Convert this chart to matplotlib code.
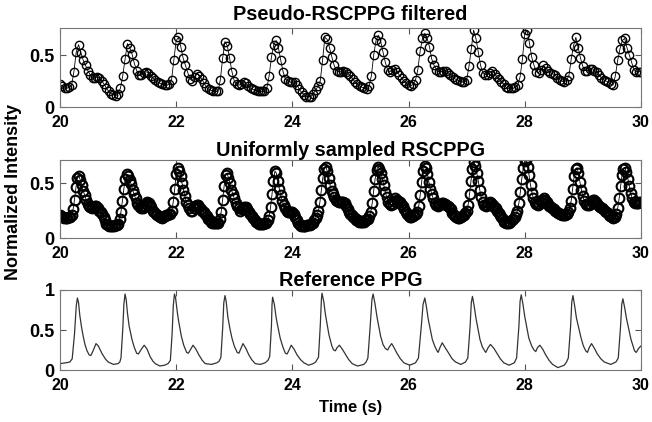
import numpy as np
import matplotlib
matplotlib.use("Agg")
import matplotlib.pyplot as plt

plt.rcParams['font.family'] = ['Liberation Sans', 'DejaVu Sans']

# pseudo-RSCPPG filtered, 25 samples per second from 20 s to 30 s
pseudo_vals = [
    0.22, 0.20, 0.18, 0.18, 0.19, 0.21, 0.34, 0.53, 0.60, 0.52, 0.45, 0.40, 0.35, 0.31, 0.28, 0.28, 0.29, 0.28, 0.25, 0.22, 0.18, 0.15, 0.13, 0.12, 0.11,
    0.13, 0.18, 0.30, 0.46, 0.61, 0.57, 0.51, 0.42, 0.35, 0.31, 0.31, 0.33, 0.34, 0.33, 0.30, 0.28, 0.26, 0.24, 0.23, 0.22, 0.21, 0.21, 0.22, 0.26, 0.45,
    0.64, 0.67, 0.58, 0.47, 0.40, 0.33, 0.27, 0.25, 0.29, 0.32, 0.30, 0.27, 0.23, 0.19, 0.17, 0.16, 0.15, 0.15, 0.15, 0.26, 0.47, 0.63, 0.59, 0.47, 0.34,
    0.25, 0.22, 0.21, 0.22, 0.24, 0.23, 0.20, 0.18, 0.17, 0.16, 0.15, 0.15, 0.15, 0.15, 0.18, 0.30, 0.48, 0.60, 0.64, 0.57, 0.45, 0.34, 0.27, 0.25, 0.24,
    0.24, 0.24, 0.21, 0.17, 0.14, 0.12, 0.10, 0.10, 0.10, 0.13, 0.16, 0.20, 0.25, 0.45, 0.67, 0.65, 0.57, 0.48, 0.40, 0.35, 0.34, 0.34, 0.35, 0.34, 0.32,
    0.30, 0.27, 0.24, 0.22, 0.20, 0.19, 0.18, 0.17, 0.20, 0.30, 0.50, 0.64, 0.69, 0.63, 0.53, 0.43, 0.36, 0.34, 0.36, 0.37, 0.34, 0.31, 0.28, 0.25, 0.23,
    0.21, 0.20, 0.22, 0.26, 0.36, 0.54, 0.66, 0.71, 0.66, 0.58, 0.46, 0.40, 0.36, 0.34, 0.34, 0.35, 0.35, 0.33, 0.31, 0.29, 0.27, 0.26, 0.25, 0.24, 0.24,
    0.26, 0.39, 0.56, 0.74, 0.66, 0.53, 0.40, 0.33, 0.31, 0.31, 0.33, 0.35, 0.32, 0.29, 0.27, 0.24, 0.22, 0.19, 0.18, 0.18, 0.18, 0.19, 0.21, 0.29, 0.46,
    0.70, 0.74, 0.62, 0.48, 0.40, 0.34, 0.33, 0.36, 0.40, 0.38, 0.35, 0.33, 0.32, 0.31, 0.28, 0.26, 0.25, 0.24, 0.26, 0.30, 0.46, 0.59, 0.67, 0.57, 0.47,
    0.39, 0.35, 0.35, 0.37, 0.37, 0.35, 0.34, 0.31, 0.28, 0.26, 0.25, 0.24, 0.22, 0.21, 0.30, 0.45, 0.56, 0.64, 0.66, 0.57, 0.50, 0.43, 0.36, 0.34, 0.34,
    0.34,
]

# uniformly sampled RSCPPG, 40 samples per second
uniform_vals = [
    0.21, 0.20, 0.19, 0.18, 0.18, 0.18, 0.19, 0.19,
    0.21, 0.26, 0.35, 0.46, 0.55, 0.56, 0.53, 0.48,
    0.43, 0.39, 0.35, 0.31, 0.29, 0.28, 0.27, 0.28,
    0.29, 0.29, 0.27, 0.25, 0.24, 0.22, 0.19, 0.16,
    0.13, 0.12, 0.11, 0.11, 0.11, 0.11, 0.12, 0.12,
    0.13, 0.17, 0.24, 0.34, 0.45, 0.54, 0.58, 0.56,
    0.53, 0.49, 0.44, 0.40, 0.36, 0.32, 0.30, 0.28,
    0.27, 0.27, 0.29, 0.31, 0.33, 0.32, 0.30, 0.28,
    0.25, 0.24, 0.22, 0.21, 0.20, 0.19, 0.18, 0.19,
    0.20, 0.21, 0.21, 0.22, 0.22, 0.25, 0.33, 0.45,
    0.58, 0.64, 0.61, 0.56, 0.50, 0.44, 0.38, 0.33,
    0.30, 0.27, 0.25, 0.25, 0.27, 0.29, 0.30, 0.30,
    0.28, 0.26, 0.25, 0.24, 0.22, 0.20, 0.17, 0.16,
    0.15, 0.14, 0.14, 0.14, 0.14, 0.14, 0.17, 0.24,
    0.35, 0.47, 0.57, 0.59, 0.55, 0.50, 0.44, 0.40,
    0.36, 0.32, 0.29, 0.27, 0.25, 0.26, 0.27, 0.28,
    0.28, 0.26, 0.24, 0.22, 0.20, 0.18, 0.16, 0.15,
    0.14, 0.13, 0.13, 0.13, 0.13, 0.14, 0.14, 0.16,
    0.20, 0.28, 0.40, 0.52, 0.61, 0.59, 0.52, 0.45,
    0.39, 0.34, 0.30, 0.27, 0.25, 0.24, 0.24, 0.24,
    0.24, 0.22, 0.19, 0.16, 0.14, 0.12, 0.11, 0.11,
    0.11, 0.11, 0.12, 0.12, 0.12, 0.13, 0.14, 0.16,
    0.18, 0.21, 0.25, 0.33, 0.44, 0.55, 0.63, 0.65,
    0.61, 0.55, 0.48, 0.43, 0.40, 0.37, 0.35, 0.34,
    0.33, 0.33, 0.33, 0.33, 0.32, 0.29, 0.26, 0.24,
    0.22, 0.21, 0.19, 0.18, 0.16, 0.16, 0.15, 0.15,
    0.15, 0.15, 0.16, 0.16, 0.17, 0.20, 0.24, 0.32,
    0.43, 0.54, 0.62, 0.65, 0.63, 0.59, 0.54, 0.48,
    0.42, 0.37, 0.33, 0.31, 0.30, 0.31, 0.34, 0.36,
    0.35, 0.34, 0.33, 0.31, 0.29, 0.26, 0.24, 0.22,
    0.20, 0.19, 0.19, 0.20, 0.21, 0.22, 0.24, 0.29,
    0.39, 0.51, 0.61, 0.66, 0.64, 0.58, 0.51, 0.45,
    0.40, 0.36, 0.32, 0.30, 0.29, 0.30, 0.31, 0.32,
    0.32, 0.31, 0.30, 0.29, 0.28, 0.26, 0.23, 0.21,
    0.20, 0.19, 0.18, 0.18, 0.19, 0.20, 0.21, 0.23,
    0.25, 0.30, 0.40, 0.52, 0.63, 0.69, 0.66, 0.59,
    0.52, 0.44, 0.37, 0.33, 0.30, 0.29, 0.30, 0.32,
    0.33, 0.32, 0.30, 0.28, 0.27, 0.25, 0.23, 0.21,
    0.19, 0.17, 0.15, 0.14, 0.14, 0.14, 0.15, 0.16,
    0.17, 0.19, 0.22, 0.25, 0.32, 0.42, 0.54, 0.64,
    0.70, 0.71, 0.65, 0.57, 0.48, 0.41, 0.36, 0.33,
    0.31, 0.30, 0.31, 0.33, 0.35, 0.36, 0.35, 0.33,
    0.31, 0.29, 0.28, 0.27, 0.26, 0.25, 0.24, 0.23,
    0.22, 0.22, 0.21, 0.21, 0.21, 0.22, 0.24, 0.27,
    0.34, 0.45, 0.56, 0.63, 0.64, 0.59, 0.51, 0.44,
    0.38, 0.34, 0.31, 0.30, 0.30, 0.31, 0.33, 0.35,
    0.35, 0.33, 0.31, 0.29, 0.28, 0.27, 0.26, 0.25,
    0.24, 0.23, 0.21, 0.20, 0.19, 0.18, 0.19, 0.22,
    0.27, 0.36, 0.47, 0.57, 0.63, 0.64, 0.60, 0.54,
    0.47, 0.41, 0.36, 0.33, 0.32, 0.32, 0.32, 0.33,
    0.33,
]

# reference PPG, read as (time, value) points along the trace
ref_t = [
    20.00, 20.10, 20.17, 20.21, 20.25, 20.28, 20.30, 20.32, 20.34, 20.37, 20.40, 20.43, 20.46, 20.50, 20.53, 20.57, 20.62, 20.66, 20.72, 20.78, 20.83, 20.92, 21.00, 21.03, 21.05,
    21.08, 21.10, 21.12, 21.14, 21.16, 21.19, 21.24, 21.28, 21.32, 21.35, 21.40, 21.45, 21.50, 21.55, 21.60, 21.64, 21.72, 21.80, 21.86, 21.90,
    21.93, 21.95, 21.97, 21.99, 22.02, 22.04, 22.09, 22.13, 22.18, 22.21, 22.25, 22.29, 22.34, 22.39, 22.45, 22.50, 22.61, 22.70, 22.74, 22.77,
    22.80, 22.82, 22.84, 22.86, 22.89, 22.93, 22.96, 23.00, 23.05, 23.08, 23.11, 23.15, 23.20, 23.25, 23.30, 23.36, 23.45, 23.53, 23.58, 23.61,
    23.64, 23.65, 23.66, 23.69, 23.72, 23.74, 23.79, 23.84, 23.88, 23.91, 23.95, 23.98, 24.03, 24.08, 24.14, 24.20, 24.28, 24.36, 24.40, 24.45,
    24.48, 24.50, 24.51, 24.54, 24.57, 24.63, 24.68, 24.71, 24.74, 24.77, 24.81, 24.86, 24.92, 24.97, 25.03, 25.12, 25.23, 25.27, 25.30,
    25.34, 25.37, 25.39, 25.42, 25.46, 25.52, 25.56, 25.60, 25.64, 25.67, 25.71, 25.75, 25.80, 25.86, 25.92, 26.02, 26.12, 26.17,
    26.22, 26.25, 26.28, 26.31, 26.34, 26.41, 26.45, 26.49, 26.51, 26.54, 26.58, 26.63, 26.70, 26.75, 26.81, 26.90, 26.98, 27.02,
    27.06, 27.08, 27.10, 27.13, 27.16, 27.23, 27.27, 27.31, 27.33, 27.37, 27.41, 27.47, 27.53, 27.58, 27.64, 27.73, 27.82, 27.86,
    27.90, 27.92, 27.94, 27.97, 28.00, 28.07, 28.12, 28.16, 28.19, 28.22, 28.26, 28.31, 28.36, 28.42, 28.48, 28.57, 28.68, 28.72, 28.75,
    28.79, 28.81, 28.83, 28.86, 28.89, 28.97, 29.01, 29.05, 29.08, 29.11, 29.15, 29.20, 29.25, 29.31, 29.37, 29.48, 29.57, 29.61,
    29.65, 29.67, 29.69, 29.72, 29.75, 29.83, 29.89, 29.92, 29.96, 30.00,
]
ref_vals = [
    0.08, 0.09, 0.10, 0.14, 0.45, 0.80, 0.90, 0.84, 0.69, 0.54, 0.42, 0.32, 0.25, 0.19, 0.18, 0.24, 0.33, 0.30, 0.21, 0.14, 0.10, 0.07, 0.08, 0.10, 0.15,
    0.50, 0.82, 0.95, 0.88, 0.72, 0.55, 0.38, 0.28, 0.21, 0.20, 0.26, 0.31, 0.26, 0.17, 0.11, 0.08, 0.05, 0.06, 0.08, 0.12,
    0.45, 0.80, 0.95, 0.90, 0.72, 0.62, 0.42, 0.31, 0.22, 0.21, 0.26, 0.31, 0.26, 0.19, 0.12, 0.08, 0.07, 0.09, 0.11, 0.16,
    0.52, 0.84, 0.93, 0.86, 0.66, 0.50, 0.40, 0.30, 0.22, 0.21, 0.26, 0.33, 0.27, 0.19, 0.13, 0.08, 0.07, 0.09, 0.12, 0.17,
    0.55, 0.82, 0.91, 0.82, 0.66, 0.58, 0.40, 0.28, 0.21, 0.20, 0.26, 0.31, 0.26, 0.19, 0.13, 0.09, 0.06, 0.08, 0.10, 0.16,
    0.55, 0.88, 0.96, 0.86, 0.69, 0.44, 0.30, 0.25, 0.24, 0.28, 0.31, 0.26, 0.19, 0.13, 0.08, 0.05, 0.07, 0.10, 0.15,
    0.55, 0.88, 0.95, 0.84, 0.65, 0.42, 0.32, 0.27, 0.25, 0.29, 0.33, 0.28, 0.21, 0.14, 0.09, 0.06, 0.09, 0.15,
    0.55, 0.82, 0.90, 0.78, 0.63, 0.38, 0.30, 0.24, 0.22, 0.28, 0.34, 0.28, 0.20, 0.14, 0.10, 0.07, 0.10, 0.15,
    0.55, 0.84, 0.92, 0.80, 0.65, 0.38, 0.29, 0.24, 0.22, 0.28, 0.32, 0.27, 0.20, 0.14, 0.09, 0.06, 0.09, 0.15,
    0.55, 0.86, 0.94, 0.82, 0.67, 0.40, 0.30, 0.25, 0.23, 0.28, 0.31, 0.26, 0.19, 0.12, 0.07, 0.03, 0.06, 0.10, 0.15,
    0.55, 0.85, 0.93, 0.80, 0.65, 0.40, 0.30, 0.24, 0.22, 0.28, 0.33, 0.27, 0.20, 0.14, 0.10, 0.07, 0.10, 0.15,
    0.55, 0.82, 0.89, 0.78, 0.65, 0.38, 0.24, 0.22, 0.27, 0.30,
]

titles = ['Pseudo-RSCPPG filtered', 'Uniformly sampled RSCPPG', 'Reference PPG']
title_pads = [6, 3, 3]
xticks = [20, 22, 24, 26, 28, 30]

pseudo_t = np.linspace(20, 30, len(pseudo_vals))
uniform_t = np.linspace(20, 30, len(uniform_vals))

fig = plt.figure(figsize=(6.52, 4.22), dpi=100)
# axes boxes in figure fractions, matlab-like stacked subplots
boxes = [[0.092, 0.7464, 0.891, 0.1872],
         [0.092, 0.436, 0.891, 0.1848],
         [0.092, 0.1232, 0.891, 0.1896]]
axs = [fig.add_axes(b) for b in boxes]

axs[0].plot(pseudo_t, pseudo_vals, '-o', color='black', lw=0.6,
            markersize=6.0, markerfacecolor='none', markeredgewidth=1.0)
axs[1].plot(uniform_t, uniform_vals, '-o', color='black', lw=0.6,
            markersize=7.0, markerfacecolor='none', markeredgewidth=1.5)
axs[2].plot(ref_t, ref_vals, '-', color='#333333', lw=0.9)

ylims = [(0, 0.76), (0, 0.71), (0, 1)]
yticks = [[0, 0.5], [0, 0.5], [0, 0.5, 1]]
for i, ax in enumerate(axs):
    ax.set_xlim(20, 30)
    ax.set_ylim(*ylims[i])
    ax.set_xticks(xticks)
    ax.set_xticklabels([str(x) for x in xticks], fontsize=11.5, fontweight='bold')
    ax.set_yticks(yticks[i])
    ax.set_yticklabels(['0', '0.5', '1'][:len(yticks[i])], fontsize=13, fontweight='bold')
    ax.tick_params(direction='in', length=4, width=0.8, color='#555555',
                   top=True, right=True)
    ax.tick_params(axis='x', pad=6)
    ax.tick_params(axis='y', pad=4)
    for s in ax.spines.values():
        s.set_color('#777777')
        s.set_linewidth(0.8)
    ax.set_title(titles[i], fontsize=14.3, fontweight='bold', pad=title_pads[i])

axs[2].set_xlabel('Time (s)', fontsize=12, fontweight='bold', labelpad=5)
fig.text(0.02, 0.545, 'Normalized Intensity', rotation=90, fontsize=13,
         fontweight='bold', ha='center', va='center')

fig.savefig('out.png', dpi=100)
